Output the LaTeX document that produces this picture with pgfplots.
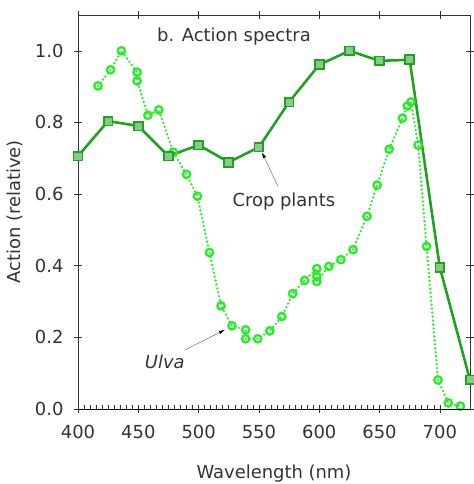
\documentclass[border=0pt]{standalone}
\usepackage{pgfplots}
\pgfplotsset{compat=1.18}
\usetikzlibrary{arrows.meta}
\usepackage{fontspec}
\setmainfont{DejaVu Sans}
\definecolor{cropc}{HTML}{22A022}
\definecolor{ulvac}{HTML}{2AEA2A}
\definecolor{txt}{HTML}{333333}
\begin{document}
\begin{tikzpicture}
\path[use as bounding box] (-78bp,-75bp) rectangle (396bp,409bp);
\begin{axis}[
  at={(0,0)}, anchor=south west,
  scale only axis, width=392bp, height=394bp,
  xmin=400, xmax=725, ymin=0, ymax=1.1,
  xtick={400,450,...,700}, ytick={0,0.2,...,1.0},
  tick align=center,
  major tick length=8bp,
  every tick/.style={txt, line width=0.6pt},
  axis line style={txt, line width=0.8pt},
  tick label style={font=\fontsize{18}{20}\selectfont, text=txt},
  /pgf/number format/assume math mode=true,
  yticklabel style={xshift=-7bp, /pgf/number format/fixed, /pgf/number format/fixed zerofill, /pgf/number format/precision=1},
  xticklabel style={yshift=-9bp, /pgf/number format/1000 sep={}},
  xlabel={Wavelength (nm)}, ylabel={Action (relative)},
  label style={font=\fontsize{18}{20}\selectfont, text=txt},
  xlabel style={yshift=-19bp},
  ylabel style={yshift=5bp},
  clip=false,
]
\addplot[ulvac, line width=2.6pt, line cap=round, dash pattern=on 0pt off 4pt, mark=o, mark size=3.7bp, mark options={solid, line width=2.3pt, fill=white}] coordinates {
(416.6,0.902) (427,0.947) (436,1.0) (449,0.94) (449,0.916) (458,0.82) (467,0.835)
(479,0.717) (490,0.655) (499,0.594) (509,0.437) (518.6,0.288) (527.7,0.232)
(539,0.221) (539,0.196) (549,0.196) (559,0.218) (569,0.258) (578,0.322)
(588,0.359) (598,0.392) (598,0.37) (598,0.356) (608,0.398) (618,0.417)
(628,0.445) (639.6,0.538) (648,0.625) (658,0.725) (669,0.812) (673,0.846)
(676,0.857) (682,0.737) (689,0.454) (698.5,0.081) (707,0.017) (717,0.008)
};
\addplot[cropc, line width=2.6pt, mark=square*, mark size=4.4bp, mark options={solid, line width=1.8pt, fill=cropc!55}] coordinates {
(400,0.706) (425,0.804) (450,0.79) (475,0.706) (500,0.737) (525,0.689)
(550,0.731) (575,0.857) (600,0.961) (625,1.0) (650,0.972) (675,0.975)
(700,0.395) (725,0.081)
};
\node[txt, font=\fontsize{18}{20}\selectfont] at (axis cs:529.3,1.039) {b. Action spectra};
\node[txt, font=\fontsize{18}{20}\selectfont] at (axis cs:570.7,0.58) {Crop plants};
\node[txt, font=\fontsize{18}{20}\selectfont\itshape] at (axis cs:472,0.132) {Ulva};
\draw[gray, line width=0.6pt, -{Latex[length=6bp,width=3.5bp,color=black]}] (axis cs:565.7,0.622) -- (axis cs:552.5,0.717);
\draw[gray, line width=0.6pt, -{Latex[length=6bp,width=3.5bp,color=black]}] (axis cs:488.7,0.165) -- (axis cs:521.8,0.221);
\end{axis}
\begin{axis}[
  at={(0,0)}, anchor=south west,
  scale only axis, width=392bp, height=394bp,
  xmin=400, xmax=725, ymin=0, ymax=1.1,
  axis x line*=bottom, hide y axis,
  axis line style={-},
  xtick={400,450,...,700}, xticklabel=\empty,
  minor x tick num=9,
  tick align=inside, major tick length=0pt, minor tick length=3.5bp,
  every tick/.style={txt, line width=0.6pt},
]
\end{axis}
\end{tikzpicture}
\end{document}
